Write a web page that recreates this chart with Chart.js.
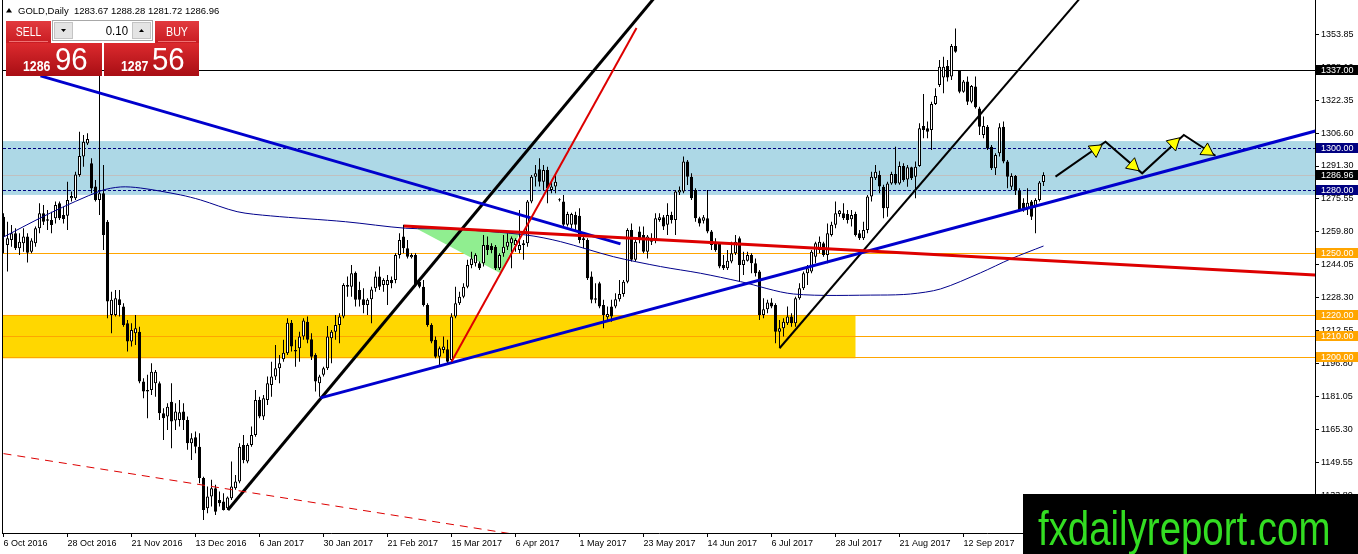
<!DOCTYPE html>
<html lang="en">
<head>
<meta charset="UTF-8">
<title>GOLD,Daily</title>
<script src="https://cdn.jsdelivr.net/npm/chart.js@4.4.0/dist/chart.umd.min.js"></script>
<style>
  html, body { margin: 0; padding: 0; background: #fff; }
  #chart { display: block; }
</style>
</head>
<body>
<canvas id="chart" width="1358" height="554"></canvas>
<script>
// time axis: one label every 16 daily bars, bar 0 = 6 Oct 2016
const dateLabels = ['6 Oct 2016', '28 Oct 2016', '21 Nov 2016', '13 Dec 2016', '6 Jan 2017', '30 Jan 2017',
    '21 Feb 2017', '15 Mar 2017', '6 Apr 2017', '1 May 2017', '23 May 2017', '14 Jun 2017', '6 Jul 2017',
    '28 Jul 2017', '21 Aug 2017', '12 Sep 2017', '4 Oct 2017'];
const barsPerLabel = 16;

const priceTicks = [1133.80, 1149.55, 1165.30, 1181.05, 1196.80, 1212.55, 1228.30, 1244.05, 1259.80,
    1275.55, 1291.30, 1306.60, 1322.35, 1338.10, 1353.85];

// daily candles
const opens = [
    1267.1, 1253.6, 1256.0, 1259.2, 1252.0, 1254.4, 1257.6, 1250.4, 1254.4, 1261.6,
    1268.7, 1265.2, 1265.5, 1266.3, 1273.5, 1267.9, 1267.6, 1275.9, 1275.9, 1287.0,
    1295.8, 1302.1, 1292.6, 1281.5, 1275.1, 1278.3, 1264.7, 1220.2, 1220.2, 1227.7,
    1224.2, 1216.2, 1207.5, 1211.4, 1212.2, 1188.4, 1183.6, 1184.4, 1187.6, 1187.6,
    1173.3, 1171.7, 1178.8, 1169.8, 1170.1, 1174.1, 1170.1, 1158.9, 1161.8, 1157.3,
    1142.3, 1127.9, 1133.5, 1137.5, 1131.9, 1131.1, 1127.9, 1132.7, 1137.5, 1140.7,
    1158.1, 1150.2, 1158.1, 1162.9, 1179.6, 1171.7, 1179.6, 1186.8, 1190.8, 1194.7,
    1199.0, 1201.9, 1216.5, 1203.5, 1204.3, 1209.9, 1217.0, 1208.6, 1201.1, 1187.6,
    1191.6, 1194.7, 1209.1, 1212.2, 1215.4, 1219.4, 1234.5, 1233.7, 1240.4, 1232.1,
    1227.7, 1225.0, 1227.7, 1232.9, 1238.5, 1234.5, 1234.5, 1236.9, 1236.9, 1248.8,
    1257.6, 1252.0, 1247.7, 1248.8, 1236.1, 1233.7, 1225.0, 1215.4, 1208.3, 1200.3,
    1203.5, 1203.8, 1198.7, 1219.4, 1225.8, 1228.9, 1233.7, 1244.1, 1244.9, 1244.9,
    1244.9, 1253.6, 1253.1, 1252.8, 1242.5, 1249.6, 1252.8, 1254.4, 1253.6, 1251.2,
    1254.4, 1254.4, 1274.3, 1286.2, 1289.7, 1283.8, 1289.4, 1279.9, 1281.5, 1275.1,
    1274.3, 1263.2, 1263.2, 1267.9, 1267.5, 1256.8, 1256.0, 1238.5, 1228.2, 1235.3,
    1225.0, 1219.1, 1224.2, 1224.2, 1227.7, 1230.2, 1236.1, 1260.8, 1246.5, 1260.0,
    1258.4, 1250.4, 1256.8, 1256.0, 1265.5, 1266.8, 1263.2, 1267.9, 1265.5, 1278.6,
    1279.1, 1293.4, 1286.2, 1279.9, 1266.3, 1265.2, 1266.3, 1260.0, 1254.1, 1254.1,
    1244.1, 1242.5, 1245.7, 1249.6, 1256.8, 1244.1, 1246.1, 1248.8, 1244.9, 1240.9,
    1220.2, 1222.9, 1226.1, 1225.0, 1212.2, 1213.8, 1216.2, 1219.4, 1216.2, 1228.2,
    1232.9, 1240.1, 1240.9, 1248.0, 1251.2, 1254.4, 1248.8, 1258.4, 1263.2, 1268.4,
    1268.7, 1268.4, 1265.9, 1268.4, 1259.2, 1256.8, 1260.8, 1276.7, 1285.4, 1287.0,
    1281.4, 1271.1, 1283.0, 1287.5, 1283.0, 1291.3, 1284.9, 1290.7, 1286.2, 1291.3,
    1310.4, 1309.3, 1308.5, 1320.9, 1330.0, 1333.6, 1339.0, 1334.0, 1348.6, 1337.0,
    1326.8, 1331.6, 1322.0, 1329.2, 1318.8, 1306.1, 1310.1, 1300.5, 1290.2, 1297.4,
    1310.1, 1293.4, 1281.4, 1286.5, 1279.5, 1273.8, 1271.1, 1274.3, 1271.9, 1275.1,
    1283.67
];
const highs = [
    1268.7, 1264.7, 1263.1, 1261.6, 1259.2, 1261.6, 1259.2, 1256.8, 1262.4, 1273.5,
    1272.7, 1270.3, 1269.5, 1274.3, 1274.3, 1271.9, 1283.8, 1279.1, 1288.6, 1307.7,
    1306.1, 1306.9, 1295.0, 1284.6, 1337.4, 1291.8, 1265.5, 1231.3, 1232.1, 1232.1,
    1225.8, 1217.8, 1216.2, 1220.2, 1214.6, 1190.0, 1191.6, 1197.1, 1193.9, 1188.4,
    1175.6, 1178.0, 1187.6, 1178.0, 1179.6, 1178.0, 1171.7, 1163.7, 1164.5, 1163.7,
    1143.0, 1138.3, 1141.5, 1139.1, 1135.9, 1135.1, 1133.5, 1150.2, 1143.8, 1158.9,
    1162.9, 1158.9, 1166.9, 1184.4, 1181.2, 1182.0, 1190.8, 1197.9, 1205.9, 1201.1,
    1208.3, 1218.6, 1217.8, 1208.3, 1212.2, 1218.6, 1219.4, 1211.4, 1201.9, 1191.6,
    1195.5, 1214.9, 1213.0, 1220.2, 1221.0, 1235.3, 1238.5, 1244.1, 1240.9, 1236.1,
    1232.9, 1228.2, 1233.7, 1240.9, 1243.3, 1237.7, 1239.3, 1238.5, 1249.6, 1259.2,
    1263.2, 1256.0, 1249.6, 1249.6, 1237.7, 1236.9, 1225.8, 1216.2, 1209.9, 1205.1,
    1209.9, 1208.3, 1221.0, 1233.7, 1231.3, 1235.3, 1246.5, 1250.4, 1249.6, 1245.7,
    1258.4, 1257.6, 1254.4, 1253.6, 1249.6, 1258.4, 1259.2, 1257.6, 1256.8, 1270.3,
    1256.0, 1275.1, 1287.0, 1291.8, 1295.0, 1291.8, 1291.0, 1283.8, 1287.8, 1275.9,
    1277.5, 1269.5, 1269.0, 1269.5, 1271.1, 1258.4, 1256.8, 1240.9, 1235.3, 1236.1,
    1227.4, 1224.2, 1227.4, 1230.5, 1236.9, 1236.9, 1261.6, 1263.9, 1256.0, 1262.4,
    1262.4, 1258.4, 1259.2, 1268.7, 1268.7, 1267.9, 1273.5, 1269.5, 1279.9, 1281.5,
    1295.8, 1294.2, 1287.8, 1280.7, 1267.1, 1267.9, 1279.9, 1260.8, 1256.8, 1254.4,
    1248.8, 1251.2, 1255.2, 1258.4, 1257.6, 1250.4, 1250.4, 1249.6, 1247.2, 1241.7,
    1228.2, 1227.4, 1228.2, 1225.8, 1217.8, 1218.6, 1224.2, 1221.0, 1228.9, 1235.3,
    1240.9, 1244.1, 1251.2, 1255.2, 1257.6, 1255.2, 1263.9, 1264.7, 1274.3, 1270.3,
    1273.5, 1270.3, 1270.3, 1269.5, 1260.8, 1264.7, 1277.5, 1288.6, 1291.8, 1289.0,
    1282.3, 1283.8, 1288.6, 1300.5, 1293.4, 1292.6, 1291.8, 1291.0, 1293.4, 1311.7,
    1325.7, 1312.5, 1322.0, 1328.4, 1341.9, 1343.5, 1341.9, 1349.6, 1357.0, 1337.1,
    1332.4, 1334.0, 1330.0, 1334.0, 1319.6, 1314.9, 1310.9, 1301.3, 1297.4, 1311.7,
    1312.5, 1294.2, 1287.8, 1287.0, 1280.7, 1275.9, 1280.7, 1275.1, 1275.9, 1284.2,
    1288.28
];
const lows = [
    1249.6, 1240.9, 1252.8, 1251.2, 1248.8, 1250.4, 1245.2, 1249.6, 1252.8, 1259.2,
    1263.1, 1260.8, 1259.2, 1263.9, 1265.5, 1263.9, 1260.8, 1274.3, 1275.1, 1286.2,
    1291.0, 1301.3, 1278.3, 1274.3, 1267.9, 1251.2, 1218.6, 1211.4, 1219.4, 1219.4,
    1214.6, 1202.7, 1205.1, 1205.9, 1187.6, 1180.4, 1170.9, 1182.0, 1181.2, 1170.1,
    1160.5, 1165.3, 1156.6, 1165.3, 1166.9, 1165.3, 1155.8, 1151.0, 1154.2, 1139.9,
    1122.3, 1125.5, 1128.7, 1124.7, 1128.7, 1126.8, 1127.1, 1131.9, 1136.7, 1139.9,
    1149.4, 1149.4, 1157.3, 1162.1, 1170.9, 1170.1, 1177.2, 1181.2, 1189.2, 1187.6,
    1197.9, 1201.1, 1202.7, 1195.5, 1197.9, 1208.3, 1206.7, 1198.7, 1183.6, 1181.2,
    1190.8, 1193.9, 1197.1, 1208.3, 1206.7, 1218.6, 1228.9, 1228.9, 1224.2, 1224.2,
    1221.0, 1220.2, 1216.2, 1231.3, 1232.1, 1231.3, 1225.0, 1232.9, 1235.3, 1247.2,
    1249.6, 1247.2, 1247.2, 1233.7, 1232.9, 1224.2, 1214.6, 1206.7, 1199.5, 1195.5,
    1201.9, 1197.1, 1197.9, 1218.6, 1225.0, 1228.2, 1232.9, 1242.5, 1243.3, 1241.7,
    1243.3, 1248.8, 1249.6, 1241.7, 1241.7, 1248.0, 1251.2, 1242.5, 1250.4, 1249.6,
    1246.5, 1252.8, 1273.5, 1281.5, 1281.5, 1279.9, 1273.5, 1278.3, 1278.3, 1274.3,
    1262.4, 1262.4, 1261.6, 1260.8, 1254.4, 1252.0, 1236.9, 1225.8, 1225.8, 1223.4,
    1213.8, 1217.0, 1217.0, 1223.4, 1226.6, 1228.9, 1235.3, 1245.7, 1245.7, 1254.4,
    1249.6, 1247.2, 1253.6, 1254.4, 1264.7, 1260.8, 1258.4, 1263.9, 1258.4, 1277.5,
    1278.3, 1282.2, 1275.1, 1264.7, 1262.4, 1263.9, 1259.2, 1251.2, 1250.4, 1242.5,
    1241.7, 1241.7, 1244.9, 1248.8, 1236.1, 1239.3, 1245.7, 1240.1, 1238.5, 1217.8,
    1218.6, 1221.0, 1223.4, 1206.7, 1204.5, 1209.9, 1215.4, 1214.6, 1214.6, 1227.4,
    1232.1, 1234.5, 1240.1, 1244.9, 1249.6, 1248.0, 1244.9, 1257.6, 1261.6, 1267.1,
    1265.5, 1263.9, 1262.4, 1257.6, 1256.0, 1256.0, 1259.2, 1274.3, 1284.6, 1278.3,
    1266.3, 1267.1, 1282.3, 1282.3, 1282.3, 1283.8, 1281.4, 1284.6, 1275.9, 1291.0,
    1304.5, 1304.5, 1298.9, 1320.4, 1329.0, 1326.0, 1331.6, 1332.4, 1345.4, 1326.0,
    1326.3, 1320.4, 1321.2, 1318.8, 1306.1, 1304.5, 1298.9, 1289.4, 1287.0, 1295.8,
    1292.6, 1280.7, 1279.9, 1277.5, 1269.5, 1269.5, 1267.9, 1265.5, 1259.2, 1274.3,
    1281.72
];
const closes = [
    1257.6, 1256.8, 1259.2, 1252.0, 1255.2, 1257.6, 1249.9, 1255.7, 1261.6, 1268.7,
    1264.7, 1265.9, 1263.1, 1272.7, 1266.3, 1266.0, 1275.1, 1277.0, 1287.3, 1296.1,
    1302.9, 1304.2, 1280.6, 1275.1, 1278.3, 1258.4, 1226.6, 1227.4, 1228.2, 1225.0,
    1215.4, 1207.5, 1213.0, 1213.8, 1188.4, 1183.6, 1184.4, 1193.1, 1193.1, 1173.3,
    1170.9, 1176.4, 1169.3, 1174.1, 1173.7, 1170.1, 1158.9, 1161.3, 1157.3, 1142.3,
    1127.1, 1133.5, 1137.5, 1126.3, 1130.3, 1127.1, 1133.0, 1138.3, 1140.7, 1157.3,
    1151.0, 1158.1, 1162.9, 1179.6, 1171.7, 1180.4, 1187.6, 1190.8, 1194.7, 1197.1,
    1202.2, 1216.5, 1205.1, 1202.7, 1209.9, 1217.5, 1208.3, 1200.3, 1188.4, 1190.8,
    1194.7, 1209.9, 1212.2, 1215.4, 1219.4, 1234.5, 1233.7, 1240.1, 1227.4, 1227.4,
    1225.0, 1227.4, 1232.4, 1238.5, 1233.7, 1236.9, 1236.9, 1235.3, 1248.8, 1256.0,
    1252.0, 1248.0, 1248.8, 1234.5, 1233.7, 1225.0, 1215.4, 1207.5, 1200.3, 1204.3,
    1205.1, 1197.9, 1219.4, 1225.8, 1228.9, 1233.7, 1244.1, 1247.2, 1248.8, 1242.5,
    1253.6, 1251.2, 1251.2, 1242.5, 1248.8, 1252.8, 1255.2, 1256.8, 1256.0, 1253.6,
    1253.6, 1274.3, 1286.2, 1287.8, 1283.8, 1289.4, 1280.7, 1281.5, 1283.8, 1275.0,
    1263.2, 1268.4, 1268.4, 1263.2, 1256.0, 1256.0, 1237.7, 1227.4, 1227.4, 1224.2,
    1220.2, 1220.7, 1219.4, 1227.7, 1230.2, 1236.1, 1260.8, 1246.5, 1255.2, 1256.0,
    1250.4, 1257.6, 1255.2, 1266.3, 1266.8, 1262.4, 1267.9, 1265.5, 1279.1, 1279.9,
    1293.4, 1286.2, 1275.9, 1266.3, 1263.9, 1266.8, 1260.0, 1253.6, 1251.2, 1243.3,
    1242.5, 1246.1, 1249.6, 1255.2, 1244.1, 1246.5, 1248.8, 1244.9, 1240.1, 1220.2,
    1222.9, 1226.1, 1224.2, 1212.2, 1213.8, 1217.0, 1219.4, 1216.2, 1228.2, 1232.9,
    1240.1, 1242.5, 1250.4, 1254.4, 1255.2, 1248.8, 1259.2, 1263.2, 1268.7, 1270.0,
    1266.3, 1265.5, 1267.9, 1258.4, 1256.8, 1260.8, 1276.7, 1286.2, 1288.6, 1281.5,
    1271.1, 1283.0, 1287.5, 1283.0, 1291.3, 1284.6, 1290.7, 1285.4, 1291.0, 1309.3,
    1308.5, 1307.7, 1320.9, 1324.7, 1338.7, 1338.7, 1333.6, 1348.6, 1345.9, 1326.8,
    1331.6, 1322.0, 1329.5, 1319.3, 1310.1, 1310.4, 1299.7, 1290.2, 1296.6, 1309.8,
    1293.4, 1286.2, 1286.5, 1279.5, 1270.3, 1271.1, 1273.8, 1267.1, 1275.1, 1283.4,
    1286.96
];

// moving average, sampled at bar indices
const maIndex = [0, 11.75, 24.25, 29.25, 34.25, 44.25, 49.25, 58.4, 66.75, 85.5, 100.5, 113, 130.5,
    139.25, 152.5, 164.25, 174.25, 184.25, 197.5, 219.25, 226.75, 234.25, 244.25, 251.75, 260];
const maValues = [1257.4, 1268.9, 1279.4, 1281.3, 1280.8, 1277.5, 1275.1, 1269.5, 1267.5, 1264.7, 1261.6,
    1261.1, 1258.4, 1255.2, 1248.0, 1243.3, 1240.1, 1236.1, 1230.2, 1229.7, 1230.2, 1232.6, 1240.3, 1246.9, 1253.1];

// trend lines: [bar index, price] end points
const blueDownLine = [[9.25, 1334.3], [154.25, 1254.1]];
const blueUpLine = [[79.25, 1180.6], [328, 1308.0]];
const blackChannelA = [[56.1, 1127.1], [165, 1376.8]];
const blackChannelB = [[194, 1204.3], [272, 1377.8]];
const redFlatLine = [[100.1, 1262.7], [328, 1239.3]];
const redSteepLine = [[112, 1197.9], [158.25, 1357.2]];
const redDashedLine = [[0, 1154.0], [130, 1114.8]];
const greenTriangle = [[102.6, 1262.1], [129.25, 1260.0], [124.25, 1240.1], [102.6, 1262.1]];

// projected path with arrow heads
const zigzagIndex = [263, 275.5, 284.67, 295.08, 303];
const zigzagPrice = [1286.2, 1302.9, 1287.8, 1306.1, 1296.2];
const arrowIndex = [273, 282.4, 292.6, 300.9];
const arrowPrice = [1299.2, 1291.5, 1302.2, 1298.5];

// zones and horizontal levels
const blueZone = [1277.5, 1303.2];
const yellowZone = [1199.5, 1220.2];
const yellowZoneEndBar = 213;
const levelPrices = [1337.00, 1300.00, 1286.96, 1280.00, 1250.00, 1220.00, 1210.00, 1200.00];
const levelStyles = [
    { line: '#000000', dash: [], box: '#000000' },
    { line: '#000080', dash: [3, 2], box: '#000080' },
    { line: '#C0C0C0', dash: [], box: '#000000' },
    { line: '#000080', dash: [3, 2], box: '#000080' },
    { line: '#FFA500', dash: [], box: '#FFA500' },
    { line: '#FFA500', dash: [], box: '#FFA500' },
    { line: '#FFA500', dash: [], box: '#FFA500' },
    { line: '#FFA500', dash: [], box: '#FFA500' }
];

const FONT = '"Liberation Sans", Arial, sans-serif';

function pts(arr) {
    return arr.map(p => ({ x: p[0], y: p[1] }));
}

function lineSet(arr, color, width, order, dash) {
    return {
        type: 'line', data: pts(arr), borderColor: color, borderWidth: width,
        borderDash: dash || [], pointRadius: 0, fill: false, tension: 0, order: order
    };
}

function narrowText(ctx, text, x, y, font, sx, align) {
    ctx.save();
    ctx.font = font;
    ctx.textAlign = align || 'left';
    ctx.textBaseline = 'alphabetic';
    ctx.translate(x, y);
    ctx.scale(sx, 1);
    ctx.fillText(text, 0, 0);
    ctx.restore();
}

function redBox(ctx, x, y, w, h, top, bottom) {
    const g = ctx.createLinearGradient(0, y, 0, y + h);
    g.addColorStop(0, top);
    g.addColorStop(1, bottom);
    ctx.fillStyle = g;
    ctx.fillRect(x, y, w, h);
}

// keep the plot area flush with the canvas edges, like the terminal does
function noPadding(axis) {
    axis.paddingLeft = 0;
    axis.paddingRight = 0;
    axis.paddingTop = 0;
    axis.paddingBottom = 0;
}

const overlay = {
    id: 'overlay',
    beforeDatasetsDraw(chart) {
        const { ctx, chartArea: a, scales: { x, y } } = chart;
        ctx.save();
        ctx.beginPath();
        ctx.rect(a.left, a.top, a.width, a.height);
        ctx.clip();

        const b1 = y.getPixelForValue(blueZone[1]), b0 = y.getPixelForValue(blueZone[0]);
        ctx.fillStyle = '#ADD8E6';
        ctx.fillRect(a.left, b1, a.width, b0 - b1);

        const y1 = y.getPixelForValue(yellowZone[1]), y0 = y.getPixelForValue(yellowZone[0]);
        ctx.fillStyle = '#FFD700';
        ctx.fillRect(a.left, y1, x.getPixelForValue(yellowZoneEndBar) - a.left, y0 - y1);

        ctx.lineWidth = 1;
        levelPrices.forEach((p, k) => {
            const py = Math.round(y.getPixelForValue(p)) + 0.5;
            ctx.strokeStyle = levelStyles[k].line;
            ctx.setLineDash(levelStyles[k].dash);
            ctx.beginPath();
            ctx.moveTo(a.left, py);
            ctx.lineTo(a.right, py);
            ctx.stroke();
        });
        ctx.restore();
    },
    afterDraw(chart) {
        const { ctx, chartArea: a, scales: { y } } = chart;
        ctx.save();

        // left frame
        ctx.fillStyle = '#000';
        ctx.fillRect(a.left - 1, 0, 1, a.bottom + 1);

        // level price boxes on the axis
        levelPrices.forEach((p, k) => {
            const py = Math.round(y.getPixelForValue(p));
            ctx.fillStyle = levelStyles[k].box;
            ctx.fillRect(a.right + 1, py - 5, 50, 10);
            ctx.fillStyle = '#fff';
            ctx.font = '9px ' + FONT;
            ctx.textBaseline = 'middle';
            ctx.textAlign = 'left';
            ctx.fillText(p.toFixed(2), a.right + 6, py + 0.5);
        });

        // symbol caption
        ctx.fillStyle = '#000';
        ctx.beginPath();
        ctx.moveTo(6, 12.5); ctx.lineTo(12, 12.5); ctx.lineTo(9, 8);
        ctx.closePath();
        ctx.fill();
        ctx.font = '9.5px ' + FONT;
        ctx.textBaseline = 'alphabetic';
        ctx.textAlign = 'left';
        ctx.fillText('GOLD,Daily  ' + opens[opens.length - 1].toFixed(2) + ' ' + highs[highs.length - 1].toFixed(2) +
            ' ' + lows[lows.length - 1].toFixed(2) + ' ' + closes[closes.length - 1].toFixed(2), 18, 14);

        // one-click trading panel
        redBox(ctx, 6, 21, 45, 22, '#E23A3E', '#C81C22');
        redBox(ctx, 155, 21, 44, 22, '#E23A3E', '#C81C22');
        ctx.fillStyle = 'rgba(255,150,150,0.7)';
        ctx.fillRect(9, 41, 39, 1);
        ctx.fillRect(158, 41, 38, 1);
        redBox(ctx, 6, 43, 96, 33, '#DC2A2E', '#A80E14');
        redBox(ctx, 104, 43, 95, 33, '#DC2A2E', '#A80E14');

        ctx.fillStyle = '#fff';
        ctx.fillRect(52, 20, 101, 21);
        ctx.strokeStyle = '#A8A8A8';
        ctx.lineWidth = 1;
        ctx.strokeRect(52.5, 20.5, 100, 20);
        ctx.fillStyle = '#E4E4E4';
        ctx.fillRect(54, 22, 19, 17);
        ctx.fillRect(132, 22, 19, 17);
        ctx.strokeStyle = '#C4C4C4';
        ctx.strokeRect(54.5, 22.5, 18, 16);
        ctx.strokeRect(132.5, 22.5, 18, 16);
        ctx.fillStyle = '#000';
        ctx.beginPath();
        ctx.moveTo(61, 29); ctx.lineTo(66, 29); ctx.lineTo(63.5, 32);
        ctx.closePath(); ctx.fill();
        ctx.beginPath();
        ctx.moveTo(139, 32); ctx.lineTo(144, 32); ctx.lineTo(141.5, 29);
        ctx.closePath(); ctx.fill();
        narrowText(ctx, '0.10', 128, 35, '13px ' + FONT, 0.88, 'right');

        ctx.fillStyle = '#fff';
        narrowText(ctx, 'SELL', 28.5, 36, '13px ' + FONT, 0.8, 'center');
        narrowText(ctx, 'BUY', 177, 36, '13px ' + FONT, 0.82, 'center');
        narrowText(ctx, '1286', 23, 71, 'bold 14px ' + FONT, 0.88, 'left');
        narrowText(ctx, '96', 55, 70, '32px ' + FONT, 0.92, 'left');
        narrowText(ctx, '1287', 121, 71, 'bold 14px ' + FONT, 0.88, 'left');
        narrowText(ctx, '56', 152, 70, '32px ' + FONT, 0.92, 'left');

        // watermark
        ctx.fillStyle = '#000';
        ctx.fillRect(1023, 494, 335, 60);
        ctx.fillStyle = '#33DD22';
        narrowText(ctx, 'fxdailyreport.com', 1038, 545, '48px ' + FONT, 0.8, 'left');

        ctx.restore();
    }
};

const bodyData = opens.map((o, i) => ({ x: i, y: [o, closes[i]] }));
const wickData = lows.map((l, i) => ({ x: i, y: [l, highs[i]] }));

const ctx = document.getElementById('chart').getContext('2d');
new Chart(ctx, {
    type: 'bar',
    data: {
        datasets: [
            {
                type: 'line',
                data: pts(greenTriangle),
                backgroundColor: '#90EE90',
                borderWidth: 0,
                pointRadius: 0,
                fill: 'shape',
                order: 5
            },
            {
                type: 'bar',
                data: wickData,
                backgroundColor: '#000',
                barThickness: 1,
                grouped: false,
                inflateAmount: 0,
                order: 4
            },
            {
                type: 'bar',
                data: bodyData,
                backgroundColor: opens.map((o, i) => closes[i] >= o ? '#FFFFFF' : '#000000'),
                borderColor: '#000',
                borderWidth: 1,
                borderSkipped: false,
                barThickness: 3,
                minBarLength: 1,
                grouped: false,
                inflateAmount: 0,
                order: 3
            },
            {
                type: 'line',
                data: maIndex.map((v, k) => ({ x: v, y: maValues[k] })),
                borderColor: '#00008B',
                borderWidth: 1,
                pointRadius: 0,
                fill: false,
                tension: 0.3,
                order: 2
            },
            lineSet(redDashedLine, '#DD0000', 1, 1, [8, 6]),
            lineSet(redFlatLine, '#DD0000', 3, 1),
            lineSet(redSteepLine, '#DD0000', 2, 1),
            lineSet(blueDownLine, '#0000CD', 3, 1),
            lineSet(blueUpLine, '#0000CD', 3, 1),
            lineSet(blackChannelA, '#000000', 3, 1),
            lineSet(blackChannelB, '#000000', 2, 1),
            {
                type: 'line',
                data: zigzagIndex.map((v, k) => ({ x: v, y: zigzagPrice[k] })),
                borderColor: '#000',
                borderWidth: 2,
                pointRadius: 0,
                fill: false,
                tension: 0,
                order: 1
            },
            {
                type: 'line',
                data: arrowIndex.map((v, k) => ({ x: v, y: arrowPrice[k] })),
                showLine: false,
                pointStyle: 'triangle',
                pointRadius: 8,
                pointBackgroundColor: '#FFFF00',
                pointBorderColor: '#000',
                pointBorderWidth: 1,
                pointRotation: (c) => {
                    const k = c.dataIndex;
                    const xs = c.chart.scales.x, ys = c.chart.scales.y;
                    if (k === undefined || k + 1 >= zigzagIndex.length) return 0;
                    const dx = xs.getPixelForValue(zigzagIndex[k + 1]) - xs.getPixelForValue(zigzagIndex[k]);
                    const dy = ys.getPixelForValue(zigzagPrice[k + 1]) - ys.getPixelForValue(zigzagPrice[k]);
                    return Math.atan2(dx, -dy) * 180 / Math.PI;
                },
                order: 0
            }
        ]
    },
    options: {
        responsive: false,
        animation: false,
        events: [],
        layout: { autoPadding: false, padding: { left: 3, top: 0, right: 0, bottom: 0 } },
        plugins: { legend: { display: false }, tooltip: { enabled: false } },
        scales: {
            x: {
                type: 'linear',
                position: 'bottom',
                min: -0.125,
                max: 327.875,
                offset: false,
                grid: { offset: false, drawOnChartArea: false, drawTicks: true, tickLength: 4, color: '#000' },
                border: { display: true, color: '#000' },
                afterBuildTicks: (axis) => {
                    axis.ticks = dateLabels.map((_, k) => ({ value: k * barsPerLabel }));
                },
                afterFit: (axis) => { axis.height = 21; noPadding(axis); },
                ticks: {
                    align: 'start',
                    autoSkip: false,
                    maxRotation: 0,
                    padding: 1,
                    color: '#000',
                    font: { family: FONT, size: 9 },
                    callback: (v) => dateLabels[Math.round(v / barsPerLabel)]
                }
            },
            y: {
                type: 'linear',
                position: 'right',
                min: 1116.1,
                max: 1370.55,
                beginAtZero: false,
                grid: { drawOnChartArea: false, drawTicks: true, tickLength: 4, color: '#000' },
                border: { display: true, color: '#000' },
                afterBuildTicks: (axis) => {
                    axis.ticks = priceTicks.map(v => ({ value: v }));
                },
                afterFit: (axis) => { axis.width = 43; noPadding(axis); },
                ticks: {
                    padding: 2,
                    color: '#000',
                    font: { family: FONT, size: 9 },
                    callback: (v) => v.toFixed(2)
                }
            }
        }
    },
    plugins: [overlay]
});
</script>
</body>
</html>
